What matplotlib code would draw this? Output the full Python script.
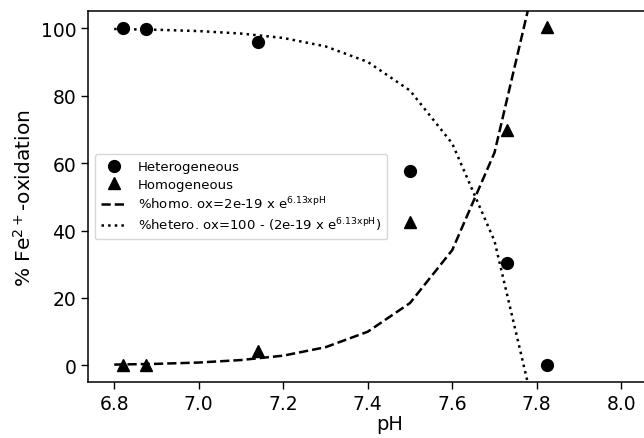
import matplotlib
matplotlib.use("Agg")
import matplotlib.pyplot as plt

# Measured data
ph_het = [6.82, 6.875, 7.14, 7.50, 7.73, 7.825]
ox_het = [100.0, 99.7, 95.9, 57.6, 30.4, 0.0]
ph_hom = [6.82, 6.875, 7.14, 7.50, 7.73, 7.825]
ox_hom = [0.0, 0.0, 4.2, 42.6, 69.8, 100.2]

# Model curves
ph_model = [6.8, 6.9, 7.0, 7.1, 7.2, 7.3, 7.4, 7.5, 7.6, 7.7, 7.8]
hom_model = [0.25, 0.47, 0.86, 1.6, 2.9, 5.4, 10.0, 18.5, 34.2, 63.1, 116.5]
het_model = [99.75, 99.53, 99.14, 98.4, 97.1, 94.6, 90.0, 81.5, 65.8, 36.9, -16.5]

xticks = [6.8, 7.0, 7.2, 7.4, 7.6, 7.8, 8.0]
yticks = [0, 20, 40, 60, 80, 100]

fig = plt.figure(figsize=(6.44, 4.39), dpi=100)
ax = fig.add_axes([88/644, (439-383.3)/439, (691-88)/644, 371/439])

ax.plot(ph_het, ox_het, 'o', color='black', markersize=8.5, label='Heterogeneous')
ax.plot(ph_hom, ox_hom, '^', color='black', markersize=8.5, label='Homogeneous')
ax.plot(ph_model, hom_model, '--', color='black', linewidth=1.8,
        label=r'%homo. ox=2e-19 x e$^{\mathrm{6.13xpH}}$')
ax.plot(ph_model, het_model, ':', color='black', linewidth=1.8,
        label=r'%hetero. ox=100 - (2e-19 x e$^{\mathrm{6.13xpH}}$)')

ax.set_xlim(6.738, 8.165)
ax.set_ylim(-5, 105)
ax.set_xticks(xticks)
ax.set_xticklabels([f"{t:.1f}" for t in xticks])
ax.set_yticks(yticks)
ax.tick_params(labelsize=13.5, length=5, width=1)
for s in ax.spines.values():
    s.set_linewidth(1.1)

ax.set_xlabel('pH', fontsize=14, labelpad=1)
ax.set_ylabel(r'% Fe$^{2+}$-oxidation', fontsize=14.5, labelpad=4)

ax.legend(loc='center left', fontsize=9.5, borderaxespad=0.5, handlelength=2.0,
          labelspacing=0.32, borderpad=0.45, handletextpad=0.85)

fig.savefig('out.png', dpi=100)
